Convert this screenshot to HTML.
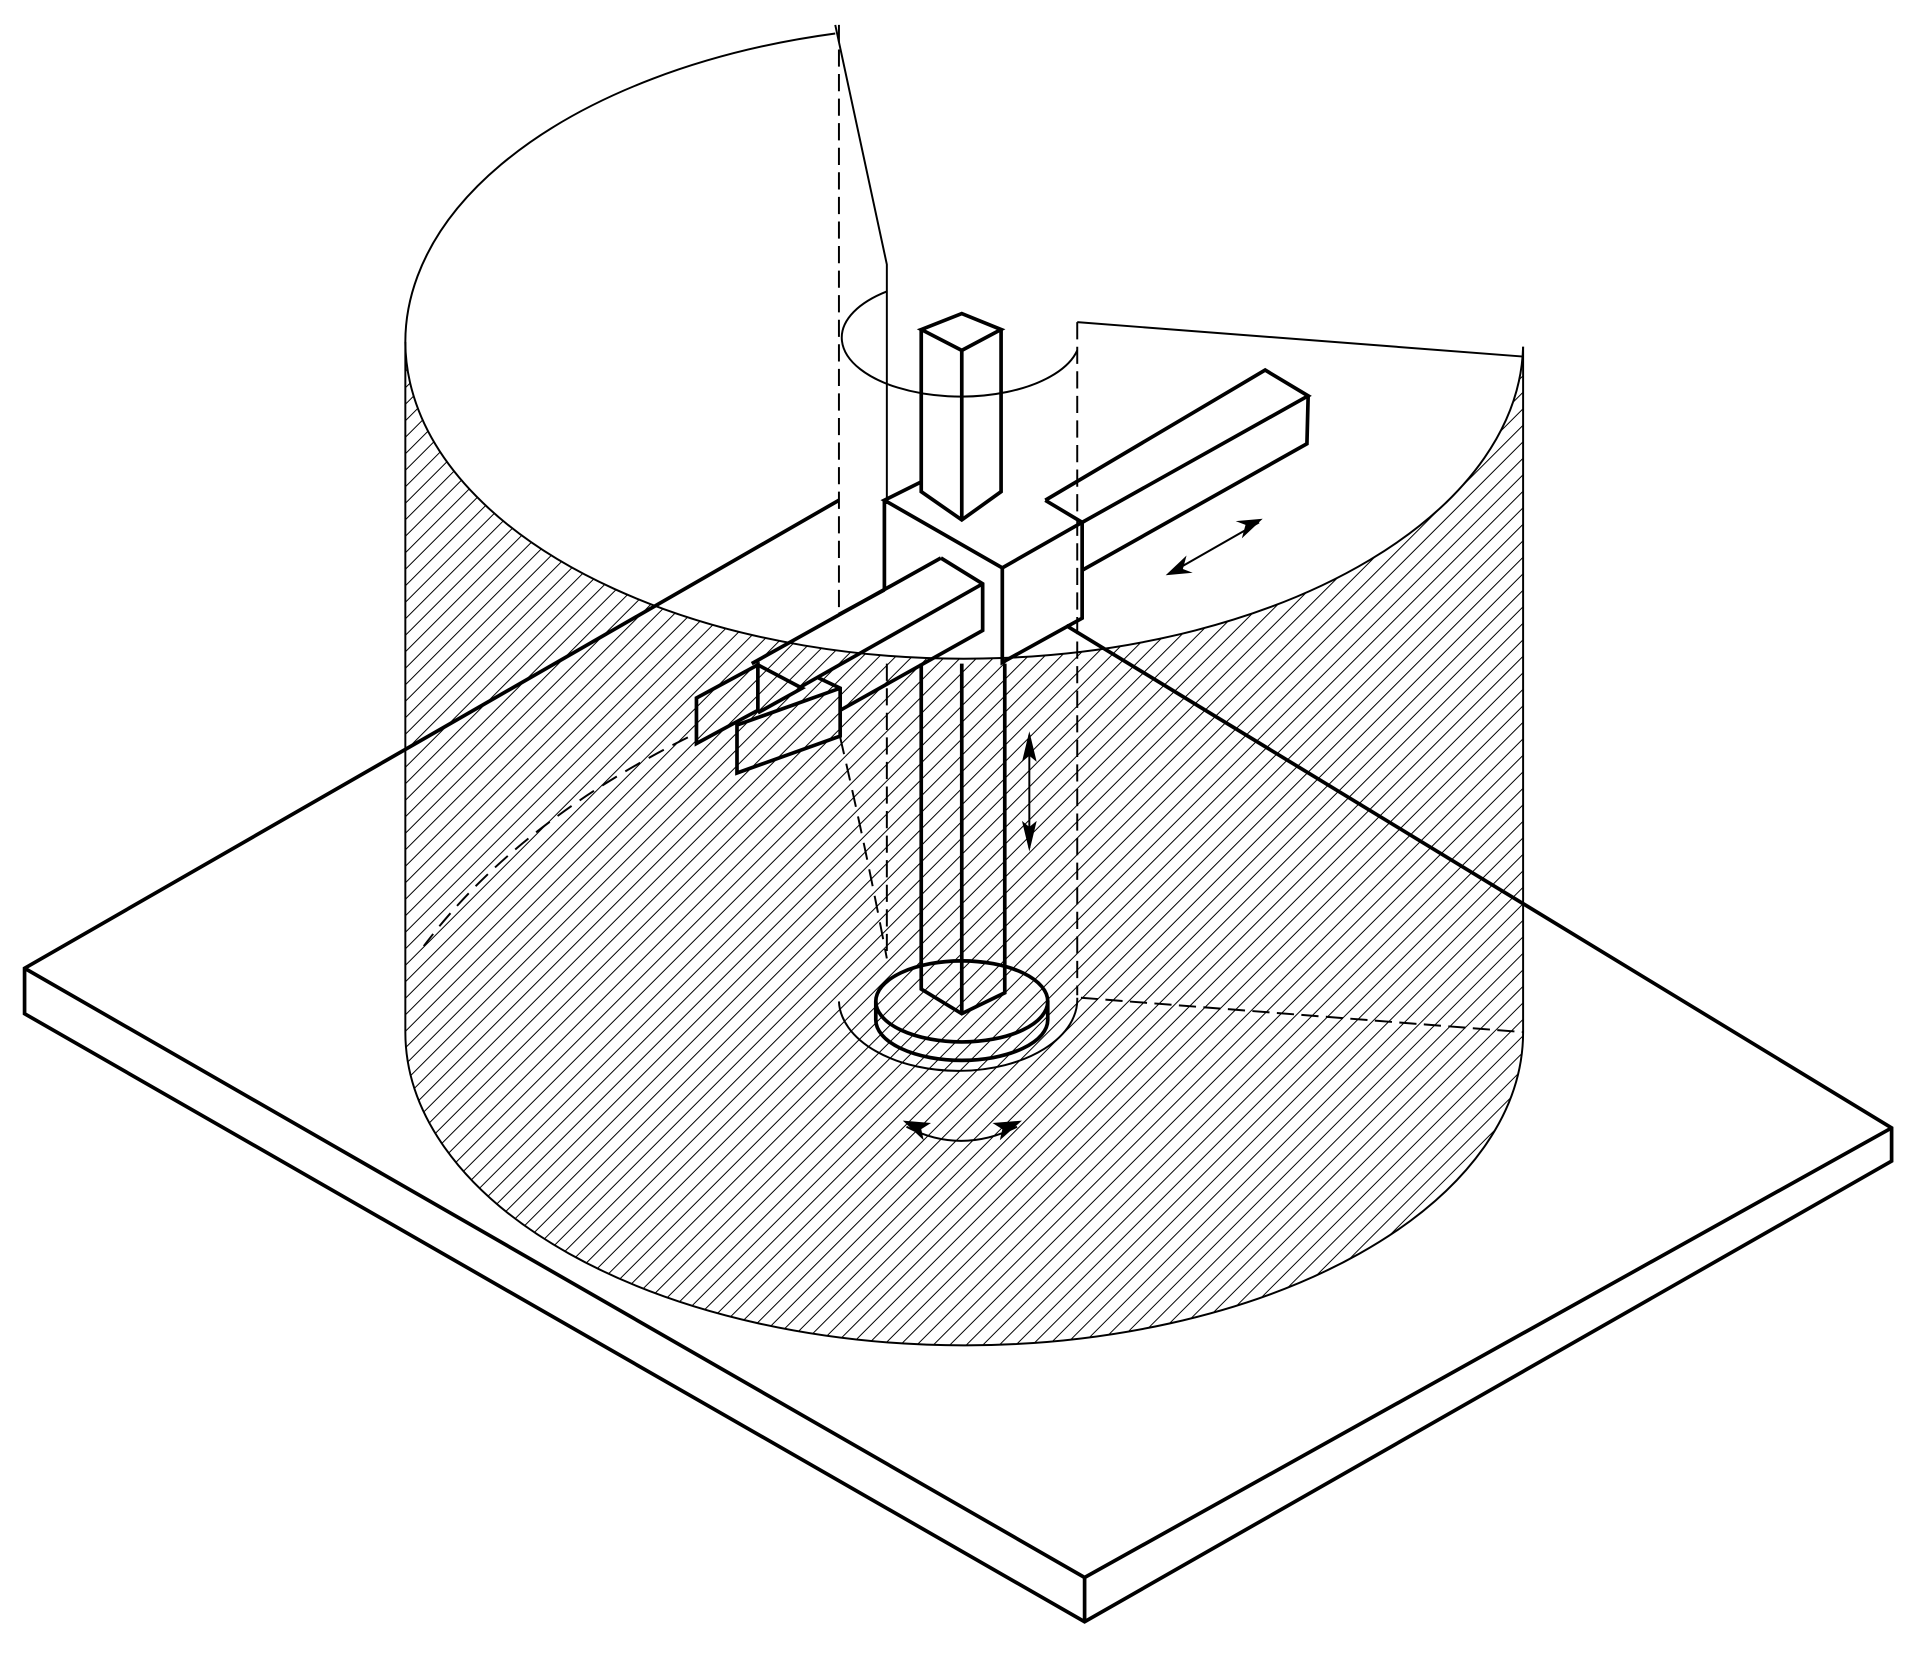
<!DOCTYPE html>
<html><head><meta charset="utf-8"><style>html,body{margin:0;padding:0;background:#fff}svg{display:block}</style></head>
<body>
<svg width="1926" height="1654" viewBox="0 0 1568 1346" xmlns="http://www.w3.org/2000/svg" fill="none" stroke="#000" stroke-linejoin="miter">
<defs>
<pattern id="h" width="9.5" height="9.5" patternUnits="userSpaceOnUse" patternTransform="rotate(45)">
<line x1="0" y1="0" x2="0" y2="9.5" stroke="#000" stroke-width="1.6"/>
</pattern>
<clipPath id="cyl"><path d="M330,278 L330,840 A455,255 0 0 0 1240,840 L1240,278 A455,258 0 0 1 330,278 Z"/></clipPath>
</defs>
<rect x="0" y="0" width="1568" height="1346" fill="#fff" stroke="none"/>
<rect x="320" y="260" width="930" height="850" fill="url(#h)" stroke="none" clip-path="url(#cyl)"/>

<g stroke-width="3">
<path d="M683,407 L20,788 L20,825 L883,1320 L1540,945 L1540,918 L868,509"/>
<path d="M20,788 L883,1284 L1540,918"/>
<path d="M883,1284 L883,1320"/>
</g>

<g stroke-width="1.6">
<path d="M680,27 A455,258 0 1 0 1240,282"/>
<path d="M330,278 L330,840 A455,255 0 0 0 1240,840 L1240,282"/>
<path d="M680,20 L722,215 L722,410"/>
<path d="M877,262 L1240,290"/>
<path d="M722,237 A97,48 0 1 0 877,285"/>
<path d="M683,20 L683,500" stroke-dasharray="14,6"/>
<path d="M877,262 L877,810" stroke-dasharray="14,6"/>
<path d="M722,540 L722,780" stroke-dasharray="14,6"/>
<path d="M880,812 L1240,840" stroke-dasharray="14,6"/>
<path d="M684,600 Q705,690 722,780" stroke-dasharray="14,8"/>
<path d="M560,600 Q420,670 345,770" stroke-dasharray="14,8"/>
<path d="M683,815 A97,58 0 0 0 877,812"/>
</g>

<g stroke-width="3">
<ellipse cx="783" cy="815" rx="70" ry="33"/>
<path d="M713,815 L713,830 A70,33 0 0 0 853,830 L853,815"/>
<path d="M750,540 L750,805 L783,825 L818,808 L818,540"/>
<path d="M783,540 L783,825"/>
<path d="M750,268 L783,255 L815,268 L783,285 Z"/>
<path d="M750,268 L750,400 L783,423 L815,400 L815,268"/>
<path d="M783,285 L783,423"/>
<path d="M750,392 L720,407 L816,462 L881,425 L851,407"/>
<path d="M816,462 L816,539 L881,503 L881,425"/>
<path d="M720,407 L720,480"/>
<path d="M851,407 L1030,301 L1065,322 L881,425"/>
<path d="M1065,322 L1064,361 L881,464"/>
<path d="M766,454 L800,475 L800,513 L684,578"/>
<path d="M766,454 L612,540"/>
<path d="M800,475 L650,560"/>
<path d="M720,480 L683,500"/>
<path d="M567,568 L617,541 L617,578 L567,605 Z"/>
<path d="M617,541 L653,560 L617,580"/>
<path d="M665,551 L684,560 L684,599 L600,629 L600,590 L684,560"/>
</g>

<g stroke-width="1.6">
<path d="M955,465 L1025,425"/>
<path d="M838,598 L838,690"/>
<path d="M738,917 Q782,940 828,917"/>
</g>
<g fill="#000" stroke="none">
<polygon points="949,468 966,452 963,463 971,466"/>
<polygon points="1028,422 1011,438 1014,427 1006,424"/>
<polygon points="838,595 844,620 838,615 832,620"/>
<polygon points="838,693 844,668 838,673 832,668"/>
<polygon points="735,912 758,914 750,919 752,928"/>
<polygon points="832,912 808,914 816,919 814,928"/>
</g>
</svg>
</body></html>
